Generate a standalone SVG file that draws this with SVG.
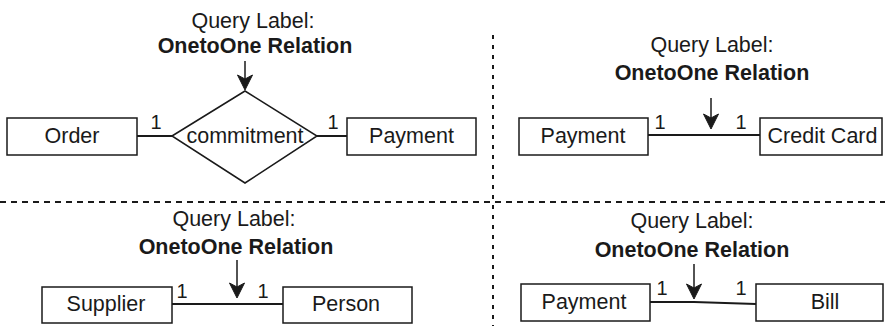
<svg xmlns="http://www.w3.org/2000/svg" width="885" height="326" viewBox="0 0 885 326">
  <style>
    .box { fill: #ffffff; stroke: #1a1a1a; stroke-width: 1.5; }
    .lbl { font-family: "Liberation Sans", Arial, sans-serif; font-size: 21.5px; fill: #1a1a1a; text-anchor: middle; }
    .bold { font-weight: bold; }
    .card { font-family: "Liberation Sans", Arial, sans-serif; font-size: 20px; fill: #1a1a1a; text-anchor: middle; }
    .edge { fill: none; stroke: #1a1a1a; stroke-width: 2; }
    .ptr { fill: none; stroke: #1a1a1a; stroke-width: 1.5; }
    .head { fill: #1a1a1a; stroke: #1a1a1a; stroke-width: 1; stroke-linejoin: miter; }
    .sep { fill: none; stroke: #1a1a1a; stroke-width: 2; }
  </style>
  <defs>
    <!-- downward arrowhead, tip at origin -->
    <path id="head" class="head" d="M0,0 L-7.5,-15 L0,-11 L7.5,-15 Z"/>
  </defs>

  <rect width="885" height="326" fill="#ffffff"/>

  <!-- panel separators -->
  <g id="separators">
    <line class="sep" x1="0" y1="202" x2="885" y2="202" stroke-dasharray="6 5"/>
    <line class="sep" x1="493" y1="35" x2="493" y2="326" stroke-dasharray="4 6"/>
  </g>

  <!-- panel 1: Order - commitment - Payment -->
  <g id="p1-label">
    <text class="lbl" x="253" y="28">Query Label:</text>
    <text class="lbl bold" x="255" y="53">OnetoOne Relation</text>
  </g>
  <g id="p1-order">
    <rect class="box" x="7" y="118" width="130" height="37"/>
    <text class="lbl" x="72" y="143">Order</text>
  </g>
  <g id="p1-commitment">
    <polygon class="box" points="172,136 245,91 317,136 245,183"/>
    <text class="lbl" x="245" y="143">commitment</text>
  </g>
  <g id="p1-payment">
    <rect class="box" x="347" y="118" width="129" height="37"/>
    <text class="lbl" x="411.5" y="143">Payment</text>
  </g>

  <!-- panel 2: Payment - Credit Card -->
  <g id="p2-label">
    <text class="lbl" x="712" y="52">Query Label:</text>
    <text class="lbl bold" x="712" y="80">OnetoOne Relation</text>
  </g>
  <g id="p2-payment">
    <rect class="box" x="519" y="118" width="129" height="37"/>
    <text class="lbl" x="583" y="143">Payment</text>
  </g>
  <g id="p2-creditcard">
    <rect class="box" x="760" y="118" width="122" height="37"/>
    <text class="lbl" x="822.5" y="143">Credit Card</text>
  </g>

  <!-- panel 3: Supplier - Person -->
  <g id="p3-label">
    <text class="lbl" x="234" y="226">Query Label:</text>
    <text class="lbl bold" x="236" y="254">OnetoOne Relation</text>
  </g>
  <g id="p3-supplier">
    <rect class="box" x="42" y="287" width="130" height="36"/>
    <text class="lbl" x="106" y="311">Supplier</text>
  </g>
  <g id="p3-person">
    <rect class="box" x="283" y="287" width="129" height="36"/>
    <text class="lbl" x="346" y="311">Person</text>
  </g>

  <!-- panel 4: Payment - Bill -->
  <g id="p4-label">
    <text class="lbl" x="692" y="228">Query Label:</text>
    <text class="lbl bold" x="692" y="257">OnetoOne Relation</text>
  </g>
  <g id="p4-payment">
    <rect class="box" x="521" y="284" width="129" height="37"/>
    <text class="lbl" x="584" y="309">Payment</text>
  </g>
  <g id="p4-bill">
    <rect class="box" x="756" y="284" width="127" height="37"/>
    <text class="lbl" x="825" y="309">Bill</text>
  </g>

  <!-- connectors, pointers and cardinalities -->
  <g id="connectors">
    <line class="edge" x1="137" y1="136" x2="172" y2="136"/>
    <line class="edge" x1="317" y1="136" x2="347" y2="136"/>
    <line class="ptr" x1="245" y1="61" x2="245" y2="82"/>
    <use href="#head" x="245" y="90"/>

    <line class="edge" x1="648" y1="135" x2="760" y2="135"/>
    <line class="ptr" x1="711" y1="98" x2="711" y2="120"/>
    <use href="#head" x="711" y="129"/>

    <line class="edge" x1="172" y1="304" x2="283" y2="304"/>
    <line class="ptr" x1="237" y1="260" x2="237" y2="290"/>
    <use href="#head" x="237" y="298"/>

    <polyline class="edge" points="650,302 694,302 756,304"/>
    <line class="ptr" x1="694" y1="264" x2="694" y2="291"/>
    <use href="#head" x="694" y="299"/>

    <text class="card" x="156" y="129">1</text>
    <text class="card" x="333" y="129">1</text>
    <text class="card" x="660" y="129">1</text>
    <text class="card" x="741" y="129">1</text>
    <text class="card" x="182" y="298">1</text>
    <text class="card" x="263" y="298">1</text>
    <text class="card" x="662" y="295">1</text>
    <text class="card" x="741" y="295">1</text>
  </g>
</svg>
